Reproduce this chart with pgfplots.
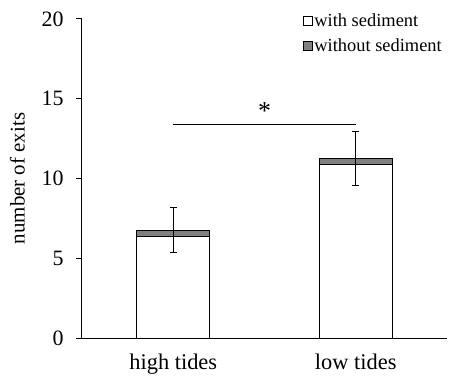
\documentclass[border=0pt]{standalone}
\usepackage{pgfplots}
\pgfplotsset{compat=1.18}
\usepackage{fontspec}
\setmainfont{Liberation Serif}
\definecolor{bargrey}{RGB}{128,128,128}
\begin{document}
\begin{tikzpicture}[x=1bp,y=1bp]
\begin{axis}[
  name=main,
  at={(0,0)}, anchor=south west,
  scale only axis,
  width=365bp, height=319bp,
  ybar stacked,
  bar width=73bp,
  xmin=-0.5, xmax=1.5,
  ymin=0, ymax=20,
  axis lines*=left,
  axis line style={line width=1bp},
  /pgf/number format/assume math mode=true,
  xtick={0,1},
  xticklabels={high tides, low tides},
  x tick label style={font=\fontsize{22.5}{22.5}\selectfont, yshift=-6bp},
  major x tick style={draw=none},
  ytick={0,5,10,15,20},
  y tick label style={font=\fontsize{22}{22}\selectfont, xshift=-9bp},
  ytick style={line width=1bp, black},
  tick align=outside,
  major tick length=6bp,
  ylabel={number of exits},
  ylabel style={font=\fontsize{21}{21}\selectfont, yshift=10bp},
  legend style={draw=none, fill=none, at={(1.0,1.03)}, anchor=north east,
    font=\fontsize{18.5}{18.5}\selectfont, row sep=7bp,
    /tikz/every even column/.append style={column sep=2bp}},
  legend cell align=left,
  legend image code/.code={\draw[#1, line width=0.7bp] (0bp,-4.5bp) rectangle (9bp,4.5bp);},
  clip=false,
]
\addplot[fill=white, draw=black, line width=0.9bp] coordinates {(0,6.35) (1,10.89)};
\addlegendentry{with sediment}
\addplot[fill=bargrey, draw=black, line width=0.9bp] coordinates {(0,0.42) (1,0.35)};
\addlegendentry{without sediment}
\end{axis}
\begin{axis}[
  at={(0,0)}, anchor=south west,
  scale only axis,
  width=365bp, height=319bp,
  xmin=-0.5, xmax=1.5,
  ymin=0, ymax=20,
  axis lines=none,
  clip=false,
]
\addplot[draw=none, mark=none,
  error bars/.cd, y dir=both, y explicit,
  error bar style={draw=black, line width=1bp},
  error mark options={rotate=90, mark size=3.5bp, line width=1bp, draw=black}]
  coordinates {(0,6.75) +- (0,1.42) (1,11.27) +- (0,1.69)};
\addplot[black, line width=1.2bp, mark=none] coordinates {(0,13.4) (1,13.4)};
\node[font=\fontsize{26}{26}\selectfont] at (axis cs:0.5,14.2) {*};
\end{axis}
\pgfresetboundingbox
\path (-82bp,-40bp) rectangle (374bp,338bp);
\end{tikzpicture}
\end{document}
